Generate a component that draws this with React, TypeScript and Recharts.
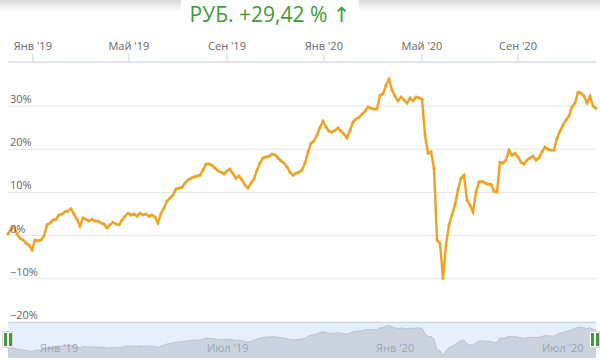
import { LineChart, Line, AreaChart, Area, XAxis, YAxis, CartesianGrid } from 'recharts';

// cumulative return, %, one reading roughly every 3px of the original plot
const RETURNS = [
  0.4, 1.5, 2.0, 0.4, -0.6, -1.0, -1.7, -2.2, -3.3, -1.0,
  -1.2, -1.0, -0.1, 2.5, 2.9, 3.6, 3.8, 4.8, 5.0, 5.5,
  5.7, 6.2, 5.0, 3.8, 2.2, 4.1, 3.8, 3.4, 3.8, 3.4,
  3.4, 2.9, 2.7, 1.8, 2.5, 3.1, 2.7, 2.5, 3.6, 4.5,
  5.2, 4.8, 5.0, 4.5, 5.2, 4.8, 5.0, 4.5, 4.8, 4.3,
  2.9, 5.2, 6.4, 8.0, 8.7, 9.4, 10.8, 11.0, 11.2, 12.2,
  12.9, 13.3, 13.6, 13.8, 14.0, 15.2, 16.6, 16.6, 16.3, 15.6,
  15.0, 14.7, 14.3, 15.0, 15.4, 14.3, 13.3, 13.8, 12.9, 11.7,
  11.0, 12.2, 13.1, 15.2, 16.8, 18.0, 18.2, 18.4, 18.9, 18.7,
  18.0, 17.3, 16.8, 15.9, 14.7, 14.0, 14.5, 14.7, 15.2, 16.8,
  19.4, 21.4, 21.9, 23.3, 25.1, 26.5, 25.1, 24.2, 24.0, 24.4,
  24.9, 24.2, 23.5, 22.6, 24.4, 26.3, 27.0, 27.4, 28.1, 28.8,
  29.8, 29.5, 29.3, 29.3, 32.5, 32.8, 34.8, 36.2, 33.7, 32.3,
  31.2, 32.1, 31.4, 30.7, 31.9, 31.2, 32.1, 31.9, 31.6, 23.3,
  19.1, 19.4, 15.6, -1.0, -1.9, -9.9, -2.2, 2.5, 4.8, 7.1,
  10.6, 13.3, 14.0, 8.2, 7.1, 5.5, 10.1, 12.4, 12.6, 12.2,
  11.9, 11.9, 10.3, 10.1, 17.0, 16.8, 17.5, 19.8, 18.6, 19.1,
  18.2, 17.0, 16.6, 17.5, 18.0, 18.4, 17.5, 18.0, 19.4, 20.5,
  20.0, 19.8, 19.8, 22.6, 24.2, 25.6, 26.8, 27.7, 29.8, 30.7,
  33.2, 33.0, 32.3, 30.7, 32.3, 30.0, 29.5,
];

const TOP_TICKS = [8.3, 40.3, 73, 105.3, 138, 170];
const TOP_LABELS = ["Янв '19", "Май '19", "Сен '19", "Янв '20", "Май '20", "Сен '20"];

const NAV_TICKS = [9.7, 65.3, 121.7, 177];
const NAV_LABELS = ["Янв '19", "Июл '19", "Янв '20", "Июл '20"];

const Y_TICKS = [-20, -10, 0, 10, 20, 30];

const TITLE = 'РУБ. +29,42 % ↑';

const data = RETURNS.map((v, i) => ({ i, v }));
const lastIndex = RETURNS.length - 1;

const FONT = '"Open Sans", "DejaVu Sans", sans-serif';
const ORANGE = '#f0a11e';
const GREEN = '#3f9c38';

function pct(v: number) {
  return v < 0 ? `−${Math.abs(v)}%` : `${v}%`;
}

function YTick(props: any) {
  const { y, payload } = props;
  return (
    <text x={10} y={y - 3} fill="#666" fontSize={11} fontFamily={FONT} textAnchor="start">
      {pct(payload.value)}
    </text>
  );
}

function NavTick(props: any) {
  const { x, payload } = props;
  const idx = NAV_TICKS.indexOf(payload.value);
  return (
    <text x={x + 3} y={30} fill="#9ba4b0" fontSize={11} fontFamily={FONT} textAnchor="start">
      {NAV_LABELS[idx]}
    </text>
  );
}

function Handle({ left }: { left: number }) {
  return (
    <div
      style={{
        position: 'absolute',
        left,
        top: 331,
        width: 11,
        height: 17,
        background: '#fff',
        border: '1px solid #d6d6d6',
        boxSizing: 'border-box',
      }}
    >
      <div style={{ position: 'absolute', left: 1, top: 1, width: 3, height: 13, background: GREEN }} />
      <div style={{ position: 'absolute', left: 6, top: 1, width: 3, height: 13, background: GREEN }} />
    </div>
  );
}

export default function App() {
  return (
    <div style={{ position: 'absolute', left: 0, top: 0, width: 600, height: 360, background: '#fff', overflow: 'hidden', fontFamily: FONT }}>
      <div style={{ position: 'absolute', left: 0, top: 0, width: 600, height: 12, background: 'linear-gradient(to bottom, #d9d9d9, #ffffff)' }} />
      <div style={{ position: 'absolute', left: 0, top: 3, width: 540, textAlign: 'center', lineHeight: '22px' }}>
        <span style={{ background: '#fff', padding: '0 9px', color: GREEN, fontSize: 21 }}>{TITLE}</span>
      </div>

      <div style={{ position: 'absolute', left: 8, top: 322, width: 588, height: 36, background: '#e7effa', borderTop: '1px solid #c9d6e8', boxSizing: 'border-box' }} />

      <div style={{ position: 'absolute', left: 0, top: 322 }}>
        <AreaChart width={600} height={37} data={data} margin={{ top: 0, right: 4, left: 8, bottom: 0 }}>
          <XAxis
            dataKey="i"
            type="number"
            domain={[0, lastIndex]}
            ticks={NAV_TICKS}
            height={1}
            axisLine={false}
            tickLine={false}
            tick={NavTick}
            interval={0}
          />
          <YAxis hide domain={[-13, 41]} />
          <Area
            type="linear"
            dataKey="v"
            baseValue="dataMin"
            fill="#cad3de"
            fillOpacity={1}
            stroke="#b9c5d3"
            strokeWidth={1}
            isAnimationActive={false}
          />
        </AreaChart>
      </div>

      <div style={{ position: 'absolute', left: 0, top: 0 }}>
        <LineChart width={600} height={322} data={data} margin={{ top: 32, right: 4, left: 7, bottom: 0 }}>
          <CartesianGrid vertical={false} stroke="#e6e6e6" />
          <YAxis
            type="number"
            domain={[-20, 40.2]}
            ticks={Y_TICKS}
            allowDataOverflow
            width={1}
            axisLine={false}
            tickLine={false}
            tick={YTick}
            interval={0}
          />
          <XAxis
            dataKey="i"
            type="number"
            orientation="top"
            domain={[0, lastIndex]}
            ticks={TOP_TICKS}
            interval={0}
            height={30}
            tickSize={8}
            tickMargin={4}
            stroke="#ccd6eb"
            tick={{ fill: '#666', fontSize: 11, fontFamily: FONT }}
            tickFormatter={(v: number) => TOP_LABELS[TOP_TICKS.indexOf(v)]}
          />
          <Line
            type="linear"
            dataKey="v"
            stroke={ORANGE}
            strokeWidth={2.4}
            dot={{ r: 1.5, fill: ORANGE, stroke: 'none' }}
            isAnimationActive={false}
          />
        </LineChart>
      </div>

      <Handle left={2} />
      <Handle left={589} />
    </div>
  );
}
